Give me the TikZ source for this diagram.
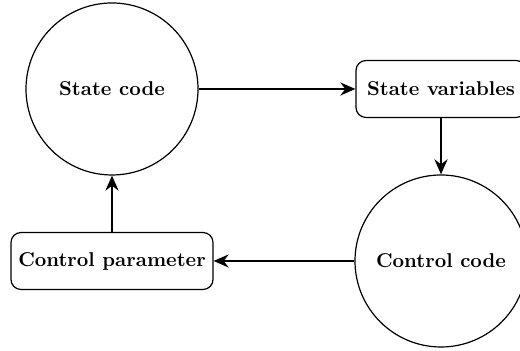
\documentclass[tikz,border=0pt]{standalone}
\usetikzlibrary{arrows.meta}
\begin{document}
\begin{tikzpicture}[
  x=1pt, y=1pt,
  codenode/.style={circle, draw, line width=0.6pt, minimum size=86pt, inner sep=0pt, font=\bfseries},
  varnode/.style={rectangle, draw, rounded corners=5pt, line width=0.6pt, font=\bfseries, minimum height=28.5pt, inner sep=3.5pt},
  flow/.style={line width=1.2pt, -{Stealth[length=7.5pt, width=6.5pt]}}
]
\useasboundingbox (0,0) rectangle (260,175.5);
\clip (0,0) rectangle (260,175.5);
\node[codenode] (sc) at (56,131) {State code};
\node[varnode, minimum width=85pt] (sv) at (220.5,131) {State variables};
\node[codenode] (cc) at (220.5,45) {Control code};
\node[varnode, minimum width=101pt] (cp) at (56,45) {Control parameter};
\draw[flow] (sc.east) -- (sv.west);
\draw[flow] (sv.south) -- (cc.north);
\draw[flow] (cc.west) -- (cp.east);
\draw[flow] (cp.north) -- (sc.south);
\end{tikzpicture}
\end{document}
